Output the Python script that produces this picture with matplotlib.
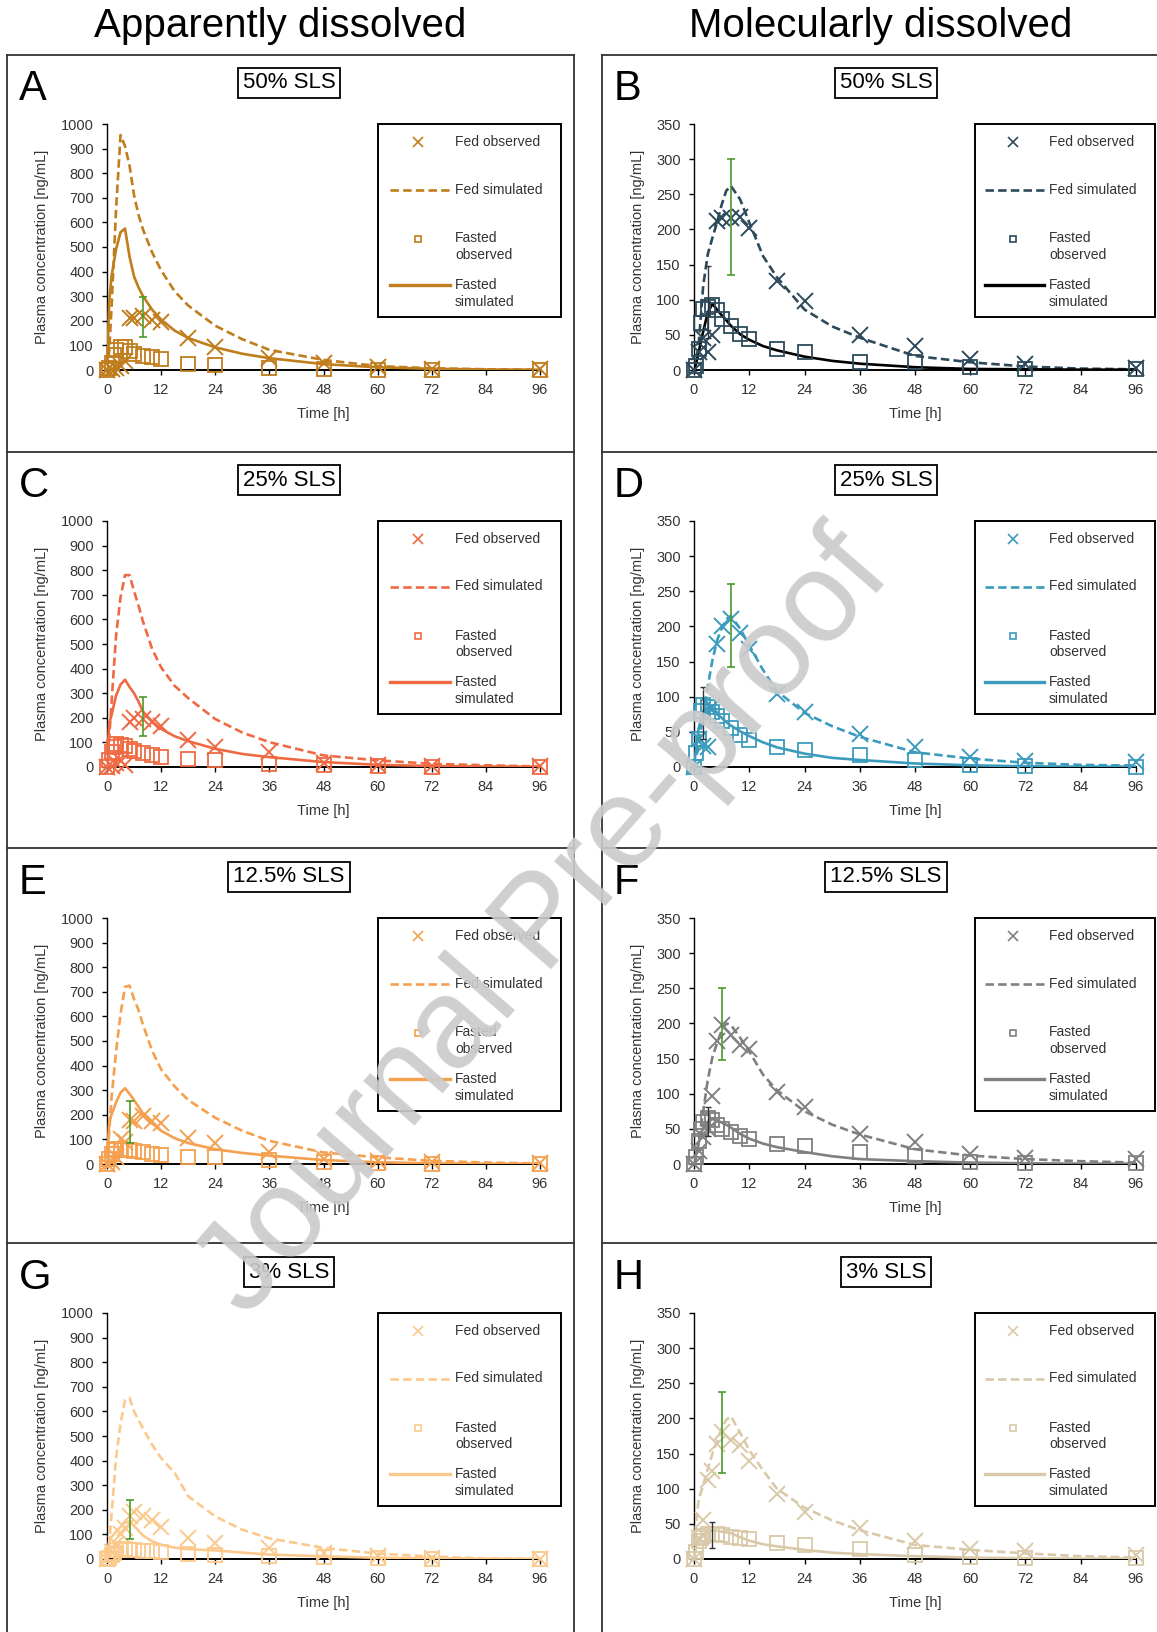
import numpy as np
import matplotlib.pyplot as plt
from matplotlib.lines import Line2D
from matplotlib.patches import Rectangle

plt.rcParams['font.family'] = ['Liberation Sans', 'DejaVu Sans']

W, H = 1157, 1632

# time grids [h]
sim_t = [0, 0.5, 1, 2, 3, 4, 5, 6, 7, 8, 10, 12, 15, 18, 24, 30, 36, 48, 60, 72, 84, 96]
fed_t = [0, 1, 2, 3, 4, 5, 6, 8, 10, 12, 18, 24, 36, 48, 60, 72, 96]
fast_t = [0, 0.5, 1, 1.5, 2, 3, 4, 5, 6, 8, 10, 12, 18, 24, 36, 48, 60, 72, 96]

# A - apparently dissolved, 50% SLS
A_fed_sim = [0, 80, 250, 650, 955, 910, 830, 710, 630, 570, 478, 405, 320, 262, 180, 125, 82, 41, 16, 7, 3, 1]
A_fast_sim = [0, 280, 380, 490, 560, 575, 460, 380, 335, 300, 245, 205, 160, 130, 92, 66, 48, 24, 11, 5, 2, 1]
A_fed_obs = [0, 5, 10, 15, 35, 211, 211, 218, 204, 197, 130, 95, 48, 27, 12, 4, 3]
A_fast_obs = [0, 10, 30, 60, 80, 95, 95, 78, 66, 57, 52, 45, 25, 20, 8, 3, 1, 1, 1]
# B - molecularly dissolved, 50% SLS
B_fed_sim = [0, 15, 35, 120, 165, 188, 210, 235, 255, 262, 243, 210, 162, 132, 86, 62, 46, 20, 11, 5, 2, 1]
B_fast_sim = [0, 10, 25, 55, 82, 94, 86, 78, 71, 63, 51, 43, 34, 28, 19, 13, 9, 4, 1.5, 1, 0.5, 0.5]
B_fed_obs = [0, 25, 45, 25, 50, 212, 216, 216, 218, 202, 127, 98, 50, 34, 16, 8, 3]
B_fast_obs = [0, 6, 30, 67, 87, 90, 92, 86, 72, 63, 51, 44, 30, 26, 12, 11, 4, 1.5, 1.5]
# C - apparently dissolved, 25% SLS
C_fed_sim = [0, 120, 260, 531, 690, 780, 780, 715, 655, 590, 480, 405, 330, 280, 195, 140, 101, 47, 27, 13, 7, 2]
C_fast_sim = [0, 180, 210, 290, 335, 355, 325, 300, 265, 225, 185, 155, 125, 105, 74, 53, 40, 20, 9, 4, 2, 1]
C_fed_obs = [0, 5, 15, 25, 10, 182, 200, 195, 182, 165, 108, 82, 60, 15, 8, 6, 4]
C_fast_obs = [0, 30, 60, 80, 94, 90, 87, 75, 65, 58, 50, 42, 33, 27, 13, 7, 3, 2, 1]
# D - molecularly dissolved, 25% SLS
D_fed_sim = [0, 15, 30, 75, 115, 152, 180, 197, 210, 215, 197, 173, 138, 108, 77, 58, 43, 21, 12, 6, 3, 2]
D_fast_sim = [0, 30, 55, 78, 85, 80, 75, 70, 64, 59, 51, 44, 35, 28, 19, 13, 10, 5, 2.4, 1, 0.5, 0.5]
D_fed_obs = [0, 40, 30, 28, 85, 175, 200, 210, 190, 168, 104, 78, 47, 28, 14, 9, 7]
D_fast_obs = [0, 20, 40, 80, 88, 85, 78, 72, 66, 55, 46, 38, 28, 24, 17, 10, 3, 1, 0]
# E - apparently dissolved, 12.5% SLS
E_fed_sim = [0, 130, 270, 456, 610, 720, 725, 670, 625, 565, 460, 385, 315, 260, 188, 135, 94, 47, 27, 13, 6, 2]
E_fast_sim = [0, 174, 200, 250, 290, 308, 285, 260, 232, 205, 165, 135, 105, 85, 60, 45, 34, 16, 7, 3, 1, 1]
E_fed_obs = [0, 10, 30, 100, 90, 178, 175, 195, 175, 165, 107, 87, 47, 20, 13, 7, 5]
E_fast_obs = [0, 20, 40, 55, 60, 60, 58, 55, 52, 48, 42, 38, 27, 27, 15, 7, 3, 2, 1]
# F - molecularly dissolved, 12.5% SLS
F_fed_sim = [0, 10, 30, 75, 120, 152, 172, 190, 200, 198, 180, 160, 127, 105, 75, 56, 42, 21, 12, 7, 4, 2]
F_fast_sim = [0, 15, 30, 52, 60, 64, 62, 59, 56, 52, 43, 36, 29, 24, 17, 11, 7, 4, 2, 1, 0.5, 0.5]
F_fed_obs = [0, 19, 38, 50, 97, 175, 198, 183, 170, 164, 102, 81, 43, 31, 14, 9, 7]
F_fast_obs = [0, 10, 33, 50, 60, 65, 62, 55, 50, 45, 40, 36, 28, 25, 17, 12, 3, 2, 1]
# G - apparently dissolved, 3% SLS
G_fed_sim = [0, 60, 180, 410, 550, 646, 655, 600, 565, 530, 465, 410, 350, 255, 173, 119, 84, 45, 22, 10, 2, 0]
G_fast_sim = [0, 78, 90, 110, 130, 148, 153, 135, 115, 95, 72, 58, 46, 40, 35, 26, 18, 11, 5, 3, 1, 0]
G_fed_obs = [0, 30, 60, 100, 125, 173, 190, 175, 159, 132, 85, 65, 45, 24, 11, 4, 1]
G_fast_obs = [0, 5, 15, 25, 35, 40, 40, 38, 36, 34, 32, 30, 22, 18, 11, 7, 3, 2, 1]
# H - molecularly dissolved, 3% SLS
H_fed_sim = [0, 55, 84, 105, 128, 150, 168, 186, 198, 203, 180, 155, 126, 100, 73, 55, 41, 20, 13, 8, 4, 2]
H_fast_sim = [0, 18, 26, 33, 38, 41, 40, 39, 38, 37, 31, 26, 21, 18, 13, 9, 7, 4, 2, 1, 0.5, 0.5]
H_fed_obs = [0, 30, 55, 112, 125, 164, 180, 170, 162, 140, 93, 67, 44, 25, 14, 11, 6]
H_fast_obs = [0, 10, 25, 30, 33, 35, 36, 35, 34, 32, 30, 28, 23, 20, 14, 6, 3, 2, 1]

letters = ['A', 'B', 'C', 'D', 'E', 'F', 'G', 'H']
titles = ['50% SLS', '50% SLS', '25% SLS', '25% SLS', '12.5% SLS', '12.5% SLS', '3% SLS', '3% SLS']
colors = ['#c07d1c', '#2c4a5a', '#ef6a43', '#3b9bbd', '#f5a04e', '#808080', '#fcc98c', '#d9c9a9']
fast_line_colors = ['#c07d1c', '#000000', '#ef6a43', '#3b9bbd', '#f5a04e', '#808080', '#fcc98c', '#d9c9a9']
fed_sims = [A_fed_sim, B_fed_sim, C_fed_sim, D_fed_sim, E_fed_sim, F_fed_sim, G_fed_sim, H_fed_sim]
fast_sims = [A_fast_sim, B_fast_sim, C_fast_sim, D_fast_sim, E_fast_sim, F_fast_sim, G_fast_sim, H_fast_sim]
fed_obss = [A_fed_obs, B_fed_obs, C_fed_obs, D_fed_obs, E_fed_obs, F_fed_obs, G_fed_obs, H_fed_obs]
fast_obss = [A_fast_obs, B_fast_obs, C_fast_obs, D_fast_obs, E_fast_obs, F_fast_obs, G_fast_obs, H_fast_obs]

# green error bar on the fed observed peak
err_t = [8, 8, 8, 8, 5, 6, 5, 6]
err_lo = [135, 135, 128, 142, 87, 148, 83, 122]
err_hi = [296, 300, 283, 261, 255, 250, 240, 237]
# small error bar on the fasted observed peak (right column)
ferr_t = [None, 3, None, 2, None, 3, None, 4]
ferr_lo = [None, 45, None, 40, None, 40, None, 16]
ferr_hi = [None, 148, None, 114, None, 81, None, 52]

col_titles = ['Apparently dissolved', 'Molecularly dissolved']

fig = plt.figure(figsize=(W / 100, H / 100), dpi=100)


def box(x0, y0, x1, y1):
    return [x0 / W, 1 - y1 / H, (x1 - x0) / W, (y1 - y0) / H]


def fline(x0, y0, x1, y1):
    fig.add_artist(Line2D([x0 / W, x1 / W], [1 - y0 / H, 1 - y1 / H], transform=fig.transFigure,
                          color='#333333', lw=1.3))


row_off = [0, 397, 794, 1189]
ax_x = [(107, 540), (694, 1136)]
leg_x = [(378, 561), (975, 1155)]
leg_marker_x = [40, 38]
leg_text_x = [77, 74]
leg_line = [(12, 72), (10, 69)]
title_cx = [289, 886]
letter_x = [19, 614]
ylab_x = [42, 638]
dash = (0, (3.2, 1.6))

# panel frames
for y in [55, 452, 848, 1243]:
    fline(7, y, 574, y)
    fline(602, y, 1157, y)
fline(7, 55, 7, 1640)
fline(574, 55, 574, 1640)
fline(602, 55, 602, 1640)

fig.text(280 / W, 1 - 26 / H, col_titles[0], fontsize=29, ha='center', va='center')
fig.text(881 / W, 1 - 26 / H, col_titles[1], fontsize=29, ha='center', va='center')

for i in range(8):
    row, col = i // 2, i % 2
    off = row_off[row]
    c = colors[i]
    ymax = 1000 if col == 0 else 350
    x0, x1 = ax_x[col]
    ax = fig.add_axes(box(x0, 124 + off, x1, 370 + off))
    ax.plot(sim_t, fed_sims[i], color=c, lw=1.9, ls=dash, zorder=3)
    ax.plot(sim_t, fast_sims[i], color=fast_line_colors[i], lw=1.9, zorder=3)
    ax.plot(fast_t, fast_obss[i], ls='none', marker='s', ms=10, mfc='none', mec=c, mew=1.3,
            clip_on=False, zorder=4)
    ax.plot(fed_t, fed_obss[i], ls='none', marker='x', ms=12, mec=c, mew=1.4,
            clip_on=False, zorder=4)
    mid = fed_obss[i][fed_t.index(err_t[i])]
    ax.errorbar([err_t[i]], [mid], yerr=[[mid - err_lo[i]], [err_hi[i] - mid]], fmt='none',
                ecolor='#4c9a2a', elinewidth=1.2, capsize=3, capthick=1.2, zorder=5)
    if ferr_t[i] is not None:
        fm = fast_obss[i][fast_t.index(ferr_t[i])]
        ax.errorbar([ferr_t[i]], [fm], yerr=[[fm - ferr_lo[i]], [ferr_hi[i] - fm]], fmt='none',
                    ecolor='#333333', elinewidth=1.0, capsize=2.5, capthick=1.0, zorder=5)
    ax.set_xlim(0, 96)
    ax.set_ylim(0, ymax)
    ax.set_xticks(np.arange(0, 97, 12))
    ax.set_yticks(np.arange(0, ymax + 1, 100 if col == 0 else 50))
    for s in ['top', 'right']:
        ax.spines[s].set_visible(False)
    ax.spines['left'].set_linewidth(1.0)
    ax.spines['bottom'].set_linewidth(1.4)
    ax.tick_params(length=3.5, width=1.0, pad=6, labelsize=10.5, labelcolor='#333333')
    ax.patch.set_alpha(0)
    ax.text(0.5, -0.18, 'Time [h]', transform=ax.transAxes, ha='center', va='center',
            fontsize=10.5, color='#333333')
    ax.text((ylab_x[col] - x0) / (x1 - x0), 0.5, 'Plasma concentration [ng/mL]',
            transform=ax.transAxes, rotation=90, ha='center', va='center',
            fontsize=10.5, color='#333333')

    # panel letter and title box
    fig.text(letter_x[col] / W, 1 - (100 + off) / H, letters[i], fontsize=30, ha='left',
             va='baseline')
    fig.text(title_cx[col] / W, 1 - (83 + off) / H, titles[i], fontsize=16, ha='center',
             va='center', bbox=dict(boxstyle='square,pad=0.22', fc='white', ec='black', lw=1.3))

    # legend box
    lx0, lx1 = leg_x[col]
    ly0, ly1 = 124 + off, 317 + off
    lw_, lh_ = lx1 - lx0, ly1 - ly0
    lax = fig.add_axes(box(lx0, ly0, lx1, ly1))
    lax.set_xlim(0, lw_)
    lax.set_ylim(lh_, 0)
    lax.axis('off')
    lax.add_patch(Rectangle((0, 0), lw_, lh_, fc='white', ec='black', lw=1.4, clip_on=False))
    mx, tx = leg_marker_x[col], leg_text_x[col]
    la, lb = leg_line[col]
    lax.plot([mx], [17.7], ls='none', marker='x', ms=7, mec=c, mew=1.2)
    lax.plot([la, lb], [65.5, 65.5], color=c, lw=1.9, ls=dash)
    lax.plot([mx], [114.5], ls='none', marker='s', ms=4.5, mfc='none', mec=c, mew=1.2)
    lax.plot([la, lb], [161, 161], color=fast_line_colors[i], lw=2.4)
    for yy, s in [(17.7, 'Fed observed'), (65.5, 'Fed simulated'), (114.5, 'Fasted'),
                  (131, 'observed'), (161, 'Fasted'), (177.6, 'simulated')]:
        lax.text(tx, yy, s, fontsize=10, ha='left', va='center', color='#333333')

# watermark
fig.text(545 / W, 1 - 925 / H, 'Journal Pre-proof', fontsize=92, rotation=49,
         rotation_mode='anchor', ha='center', va='center', color='#cbcbcb', alpha=0.92,
         zorder=10)

fig.savefig('out.png', dpi=100)
